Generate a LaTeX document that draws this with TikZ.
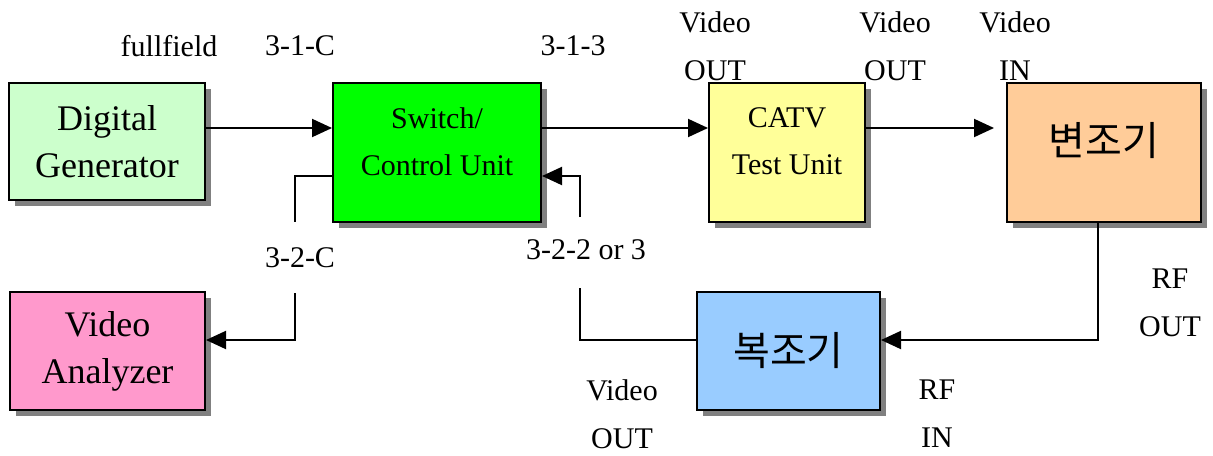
\documentclass[tikz,border=0pt]{standalone}
\usepackage{fontspec}
\setmainfont{Liberation Serif}
\newfontfamily\kofont{Noto Sans CJK KR}
\usetikzlibrary{arrows.meta,shadows}
\definecolor{gencol}{HTML}{CCFFCC}
\definecolor{ctrlcol}{HTML}{00FF00}
\definecolor{catvcol}{HTML}{FFFF99}
\definecolor{modcol}{HTML}{FFCC99}
\definecolor{anacol}{HTML}{FF99CC}
\definecolor{demodcol}{HTML}{99CCFF}
\tikzset{
  box/.style={draw, line width=1pt, inner sep=0pt, align=center,
    drop shadow={shadow xshift=3pt, shadow yshift=-3pt, fill=gray, opacity=1}},
  bigtext/.style={font=\fontsize{18}{23.5}\selectfont},
  boxtext/.style={align=center, inner sep=0pt, font=\fontsize{15}{23.5}\selectfont},
  kotext/.style={inner sep=0pt, font=\kofont\fontsize{20}{24}\selectfont},
  tag/.style={align=center, inner sep=0pt}
}
\begin{document}
\begin{tikzpicture}[x=0.5pt, y=-0.5pt, >={Triangle[length=10pt,width=9pt]}, line width=1pt, font=\fontsize{15}{24}\selectfont]
	\useasboundingbox (0,0) rectangle (1213,455);
	% blocks
	\node[box, bigtext, fill=gencol, minimum width=98pt, minimum height=58.5pt] (gen) at (107,141.5) {Digital\\Generator};
	\node[box, fill=ctrlcol, minimum width=104pt, minimum height=69.5pt,
		label={[boxtext, yshift=5.5pt]center:{Switch/\\Control Unit}}] (ctrl) at (437,152.5) {};
	\node[box, fill=catvcol, minimum width=78pt, minimum height=69.5pt,
		label={[boxtext, yshift=5.5pt]center:{CATV\\Test Unit}}] (catv) at (787,152.5) {};
	\node[box, fill=modcol, minimum width=97pt, minimum height=69.5pt,
		label={[kotext, yshift=6pt]center:변조기}] (mod) at (1104,152.5) {};
	\node[box, bigtext, fill=anacol, minimum width=97.5pt, minimum height=59pt] (ana) at (107.5,351) {Video\\Analyzer};
	\node[box, kotext, fill=demodcol, minimum width=91.5pt, minimum height=59pt] (demod) at (788.5,351) {복조기};
	% free ends
	\coordinate (c322up) at (580,217);
	\coordinate (c322lo) at (580,288);
	\coordinate (c32cup) at (295,222);
	\coordinate (c32clo) at (295,293);
	% connectors
	\draw[->] (gen.east |- 0,128) -- (ctrl.west |- 0,128);
	\draw[->] (ctrl.east |- 0,128) -- (catv.west |- 0,128);
	\draw[->, shorten >=6pt] (catv.east |- 0,128) -- (mod.west |- 0,128);
	\draw[->] (mod.south -| 1098,0) |- (demod.east |- 0,340);
	\draw (demod.west |- 0,340) -| (c322lo);
	\draw[->] (c322up) |- (ctrl.east |- 0,176);
	\draw (ctrl.west |- 0,176) -| (c32cup);
	\draw[->] (c32clo) |- (ana.east |- 0,340);
	% labels
	\node[tag] (lfull) at (169,46) {fullfield};
	\node[tag] (l31c) at (300,46) {3-1-C};
	\node[tag] (l313) at (573,46) {3-1-3};
	\node[tag] (lvo1) at (715,46) {Video\\OUT};
	\node[tag] (lvo2) at (895,46) {Video\\OUT};
	\node[tag] (lvi) at (1015,46) {Video\\IN};
	\node[tag] (l32c) at (300,258) {3-2-C};
	\node[tag] (l322) at (586,250) {3-2-2 or 3};
	\node[tag] (lrfo) at (1170,303) {RF\\OUT};
	\node[tag] (lvo3) at (622,414) {Video\\OUT};
	\node[tag] (lrfi) at (937,414) {RF\\IN};
\end{tikzpicture}
\end{document}
